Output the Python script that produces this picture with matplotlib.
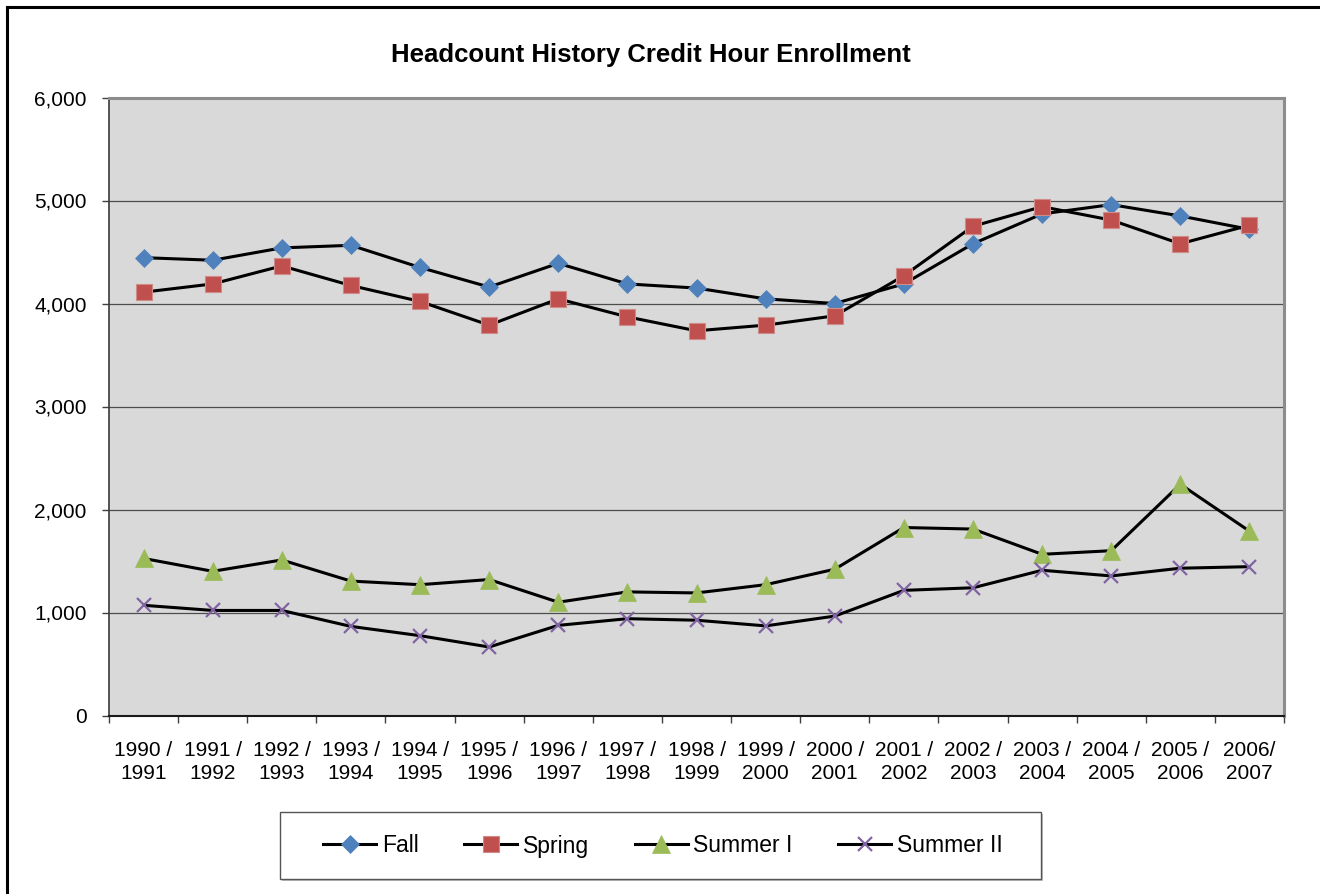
import matplotlib
matplotlib.use('Agg')
import matplotlib.pyplot as plt
from matplotlib.lines import Line2D
from matplotlib.patches import Rectangle
from matplotlib.ticker import StrMethodFormatter

plt.rcParams['font.family'] = ['Liberation Sans', 'DejaVu Sans']

# ---------------- data ----------------
categories = ["1990 /\n1991", "1991 /\n1992", "1992 /\n1993", "1993 /\n1994", "1994 /\n1995",
              "1995 /\n1996", "1996 /\n1997", "1997 /\n1998", "1998 /\n1999", "1999 /\n2000",
              "2000 /\n2001", "2001 /\n2002", "2002 /\n2003", "2003 /\n2004", "2004 /\n2005",
              "2005 /\n2006", "2006/\n2007"]
fall = [4445, 4420, 4540, 4565, 4350, 4160, 4390, 4190, 4150, 4045, 4000, 4190, 4580, 4870, 4960, 4850, 4720]
spring = [4110, 4190, 4365, 4175, 4020, 3790, 4045, 3870, 3735, 3790, 3880, 4270, 4750, 4940, 4810, 4580, 4760]
summer1 = [1525, 1400, 1510, 1305, 1270, 1320, 1100, 1200, 1190, 1270, 1420, 1825, 1810, 1565, 1600, 2245, 1790]
summer2 = [1070, 1020, 1020, 865, 775, 665, 875, 940, 925, 870, 965, 1215, 1240, 1410, 1355, 1430, 1445]
series_names = ["Fall", "Spring", "Summer I", "Summer II"]
y_ticks = [0, 1000, 2000, 3000, 4000, 5000, 6000]
title = "Headcount History Credit Hour Enrollment"

W, H = 1320, 894
fig = plt.figure(figsize=(W / 100, H / 100), dpi=100)
fig.patch.set_facecolor('white')


def fx(px):
    return px / W


def fy(py):
    return 1 - py / H


ax = fig.add_axes([fx(109), fy(715.5), fx(1284) - fx(109), fy(97.5) - fy(715.5)])
ax.set_facecolor('#D9D9D9')

x = list(range(len(categories)))
styles = [
    dict(marker='D', ms=9, mfc='#4F81BD', mec='#4F81BD', mew=0.5),
    dict(marker='s', ms=11.5, mfc='#C0504D', mec='#D08A88', mew=0.8),
    dict(marker='^', ms=12.5, mfc='#9BBB59', mec='#9BBB59', mew=0.5),
    dict(marker='x', ms=10, mfc='#8064A2', mec='#8064A2', mew=1.6),
]
handles = []
for vals, name, st in zip([fall, spring, summer1, summer2], series_names, styles):
    h, = ax.plot(x, vals, color='black', lw=2.2, label=name, zorder=3, **st)
    handles.append(h)

ax.set_xlim(-0.5, len(categories) - 0.5)
ax.set_ylim(y_ticks[0], y_ticks[-1])
ax.set_yticks(y_ticks)
ax.yaxis.set_major_formatter(StrMethodFormatter('{x:,.0f}'))
ax.yaxis.grid(True, color='#4d4d4d', lw=0.9)
ax.set_axisbelow(True)

ax.set_xticks(x)
ax.set_xticklabels(categories, fontsize=15, linespacing=1.3)
ax.tick_params(axis='x', which='major', length=0, pad=18)
ax.set_xticks([i - 0.5 for i in range(len(categories) + 1)], minor=True)
ax.tick_params(axis='x', which='minor', length=5, width=1, direction='out', color='#404040')
ax.tick_params(axis='y', which='major', length=5, width=1, direction='out', color='#404040',
               pad=11, labelsize=15)

ax.spines['left'].set_color('#3a3a3a')
ax.spines['left'].set_linewidth(1.2)
ax.spines['bottom'].set_color('#1a1a1a')
ax.spines['bottom'].set_linewidth(1.5)
for s in ['top', 'right']:
    ax.spines[s].set_color('#8c8c8c')
    ax.spines[s].set_linewidth(2.2)

fig.text(fx(651), fy(55), title, ha='center', va='center', fontsize=18.5, fontweight='bold')

# legend frame with light shadow
fig.add_artist(Rectangle((fx(282), fy(881)), fx(1043) - fx(282), fy(814) - fy(881),
                         facecolor='#bfbfbf', edgecolor='none', zorder=1))
fig.add_artist(Rectangle((fx(280), fy(879)), fx(1041) - fx(280), fy(812) - fy(879),
                         facecolor='white', edgecolor='#555555', lw=1.0, zorder=2))
leg = fig.legend(handles, series_names, loc='center', bbox_to_anchor=(fx(663), fy(846)),
                 ncol=4, frameon=False, fontsize=16.5, handlelength=2.3, handletextpad=0.25,
                 columnspacing=2.0)
leg.set_zorder(3)

# outer chart border (left and top visible)
fig.add_artist(Line2D([fx(7), fx(7)], [fy(7), -0.01], color='black', lw=2.2))
fig.add_artist(Line2D([fx(7), 1.01], [fy(7), fy(7)], color='black', lw=2.2))

fig.savefig('out.png', dpi=100)
